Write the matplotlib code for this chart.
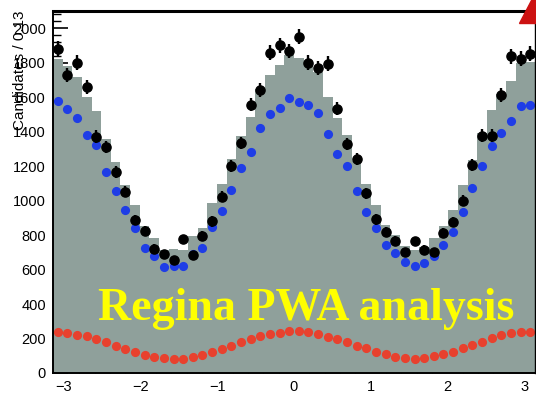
import numpy as np
import matplotlib
matplotlib.use("Agg")
import matplotlib.pyplot as plt
from matplotlib.patches import Polygon
from matplotlib.ticker import MultipleLocator

# ---- data (50 bins over -pi..pi) ----
n_bins = 50
x_range = (-np.pi, np.pi)

model_total = [1822, 1780, 1715, 1602, 1522, 1355, 1222, 1092, 974, 850,
               781, 713, 718, 712, 792, 840, 988, 1094, 1240, 1375,
               1485, 1645, 1730, 1786, 1845, 1825, 1800, 1745, 1602, 1480,
               1383, 1228, 1095, 972, 858, 798, 735, 712, 730, 783,
               850, 945, 1090, 1236, 1395, 1528, 1620, 1695, 1800, 1805]

data_counts = [1880, 1730, 1800, 1658, 1370, 1312, 1166, 1052, 887, 824,
               719, 689, 653, 775, 684, 796, 879, 1022, 1202, 1335,
               1557, 1644, 1859, 1901, 1868, 1952, 1800, 1770, 1795, 1534,
               1328, 1240, 1042, 891, 820, 768, 700, 763, 716, 700,
               813, 877, 1000, 1206, 1376, 1376, 1612, 1838, 1824, 1853]

blue_comp = [1579, 1534, 1481, 1383, 1320, 1167, 1055, 945, 839, 727,
             679, 616, 620, 620, 690, 727, 848, 941, 1061, 1189,
             1281, 1422, 1501, 1538, 1594, 1571, 1555, 1510, 1386, 1270,
             1201, 1053, 935, 839, 742, 694, 643, 618, 640, 681,
             744, 817, 935, 1071, 1202, 1316, 1393, 1461, 1550, 1557]

red_comp = [240, 232, 222, 212, 200, 178, 158, 140, 122, 106,
            95, 86, 82, 84, 92, 104, 124, 139, 158, 178,
            197, 216, 226, 234, 243, 243, 236, 226, 211, 195,
            178, 158, 143, 124, 110, 95, 85, 81, 89, 100,
            110, 124, 143, 162, 181, 201, 220, 230, 240, 240]

y_ticks = [0, 200, 400, 600, 800, 1000, 1200, 1400, 1600, 1800, 2000]
x_ticks = [-3, -2, -1, 0, 1, 2, 3]
y_label = "Candidates / 0.13"
banner = "Regina PWA analysis"

# ---- figure ----
W, H = 536, 393
fig = plt.figure(figsize=(W / 100, H / 100), dpi=100)
ax = fig.add_axes([53 / W, 20 / H, 482 / W, 362 / H])

edges = np.linspace(x_range[0], x_range[1], n_bins + 1)
centers = 0.5 * (edges[:-1] + edges[1:])

ax.stairs(model_total, edges, fill=True, color="#8fa09b", zorder=1)

ax.plot(centers, red_comp, "o", color="#e8412e", ms=6.6, mec="none", zorder=3)
ax.plot(centers, blue_comp, "o", color="#1f3de6", ms=6.6, mec="none", zorder=3)
ax.errorbar(centers, data_counts, yerr=np.sqrt(data_counts), fmt="o",
            color="black", ms=6.6, elinewidth=1.7, capsize=0, zorder=4)

ax.text(-2.56, 307, banner, color="#ffff00", fontsize=33, fontweight="bold",
        family="Liberation Serif", ha="left", va="baseline", zorder=5)

ax.set_xlim(*x_range)
ax.set_ylim(0, 2100)
ax.set_xticks(x_ticks)
ax.set_xticklabels([f"{v:d}".replace("-", "\u2212") for v in x_ticks])
ax.set_yticks(y_ticks)
ax.yaxis.set_minor_locator(MultipleLocator(40))
ax.xaxis.set_minor_locator(MultipleLocator(0.2))
ax.set_axisbelow(True)
ax.tick_params(which="major", direction="in", length=11, width=1.2,
               labelsize=10.5, pad=5, top=False, right=False)
ax.tick_params(which="minor", direction="in", length=5.5, width=1.0,
               top=False, right=False)
for lab in ax.get_xticklabels() + ax.get_yticklabels():
    lab.set_family("Liberation Sans")

for s in ["left", "bottom"]:
    ax.spines[s].set_linewidth(1.4)
ax.spines["top"].set_linewidth(2.2)
ax.spines["right"].set_linewidth(1.0)
for s in ax.spines.values():
    s.set_zorder(6)

fig.text(20 / W, 1 - 10 / H, y_label, rotation=90, ha="center", va="top",
         fontsize=11, family="Liberation Sans")

tri = Polygon([(519 / W, 1 - 23 / H), (1.0, 1 - 23 / H), (1.0, 1.0), (531 / W, 1.0)],
              closed=True, transform=fig.transFigure, color="#cc1111", zorder=10)
fig.patches.append(tri)

fig.savefig("out.png", dpi=100)
